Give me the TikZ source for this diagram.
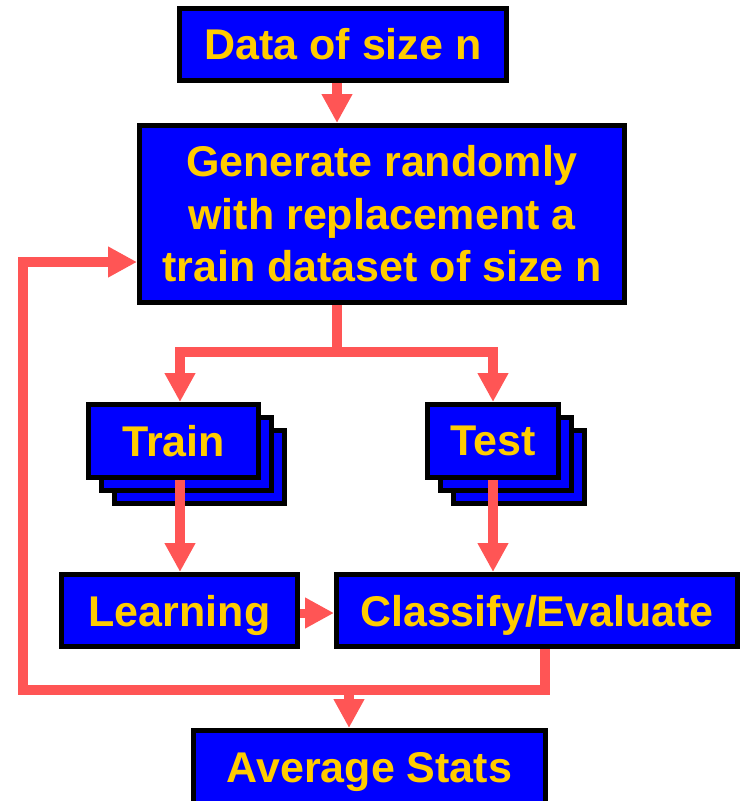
\documentclass[tikz,border=0pt]{standalone}
\usepackage{fontspec}
\setmainfont{Liberation Sans}
\usetikzlibrary{arrows.meta}
\definecolor{boxblue}{RGB}{0,0,255}
\definecolor{txtyellow}{RGB}{255,204,0}
\definecolor{arrred}{RGB}{255,85,85}
\begin{document}
\begin{tikzpicture}[x=1pt,y=-1pt,
  box/.style={draw=black, line width=5pt, fill=boxblue, text=txtyellow,
    font=\fontsize{43}{52.5}\selectfont\bfseries, inner sep=0pt, align=center, anchor=center},
  conn/.style={draw=arrred, line width=10pt},
  arr/.style={conn, -{Triangle[width=29pt,length=29pt]}}]
\useasboundingbox (0,0) rectangle (740,801);

% nodes
\node[box, minimum width=327pt, minimum height=72pt] (data) at (343,44.5) {Data of size n};
\node[box, minimum width=485pt, minimum height=177pt] (gen) at (382,214)
  {Generate randomly\\with replacement a\\train dataset of size n};

\node[box, minimum width=170pt, minimum height=73pt] (train3) at (199.5,467) {};
\node[box, minimum width=170pt, minimum height=73pt] (train2) at (186.5,454) {};
\node[box, minimum width=170pt, minimum height=73pt] (train) at (173.5,441) {Train};

\node[box, minimum width=131pt, minimum height=73pt] (test3) at (519,467) {};
\node[box, minimum width=131pt, minimum height=73pt] (test2) at (506,454) {};
\node[box, minimum width=131pt, minimum height=73pt] (test) at (493,441) {Test};

\node[box, text depth=0pt, minimum width=236pt, minimum height=72pt] (learn) at (179.5,610.5) {Learning};
\node[box, text depth=0pt, minimum width=401pt, minimum height=72pt] (classify) at (537,610.5) {Classify/Evaluate};
\node[box, text height=31pt, text depth=48pt, minimum width=352pt, minimum height=120pt] (avg) at (369.5,790.5) {Average Stats};

% helper coordinates
\coordinate (cDG) at (337,0);
\coordinate (brY) at (0,352);
\coordinate (cTr) at (180,0);
\coordinate (cTe) at (493,0);
\coordinate (loopX) at (23,0);
\coordinate (loopY) at (0,262);
\coordinate (cCl) at (545,0);
\coordinate (botY) at (0,690);
\coordinate (cAv) at (349,0);
\coordinate (lcY) at (0,613);

% connectors
\draw[arr] (data.south -| cDG) -- (gen.north -| cDG);
\draw[arr] (gen.south -| cDG) -- (cDG |- brY) -| (train.north -| cTr);
\draw[arr] (gen.south -| cDG) -- (cDG |- brY) -| (test.north -| cTe);
\draw[arr] (train.south -| cTr) -- (learn.north -| cTr);
\draw[arr] (test.south -| cTe) -- (classify.north -| cTe);
\draw[arr, line width=9pt] (learn.east |- lcY) -- (classify.west |- lcY);
\draw[arr] (classify.south -| cCl) |- (loopX |- botY) |- (gen.west |- loopY);
\draw[arr] (cAv |- botY) -- (avg.north -| cAv);
\end{tikzpicture}
\end{document}
